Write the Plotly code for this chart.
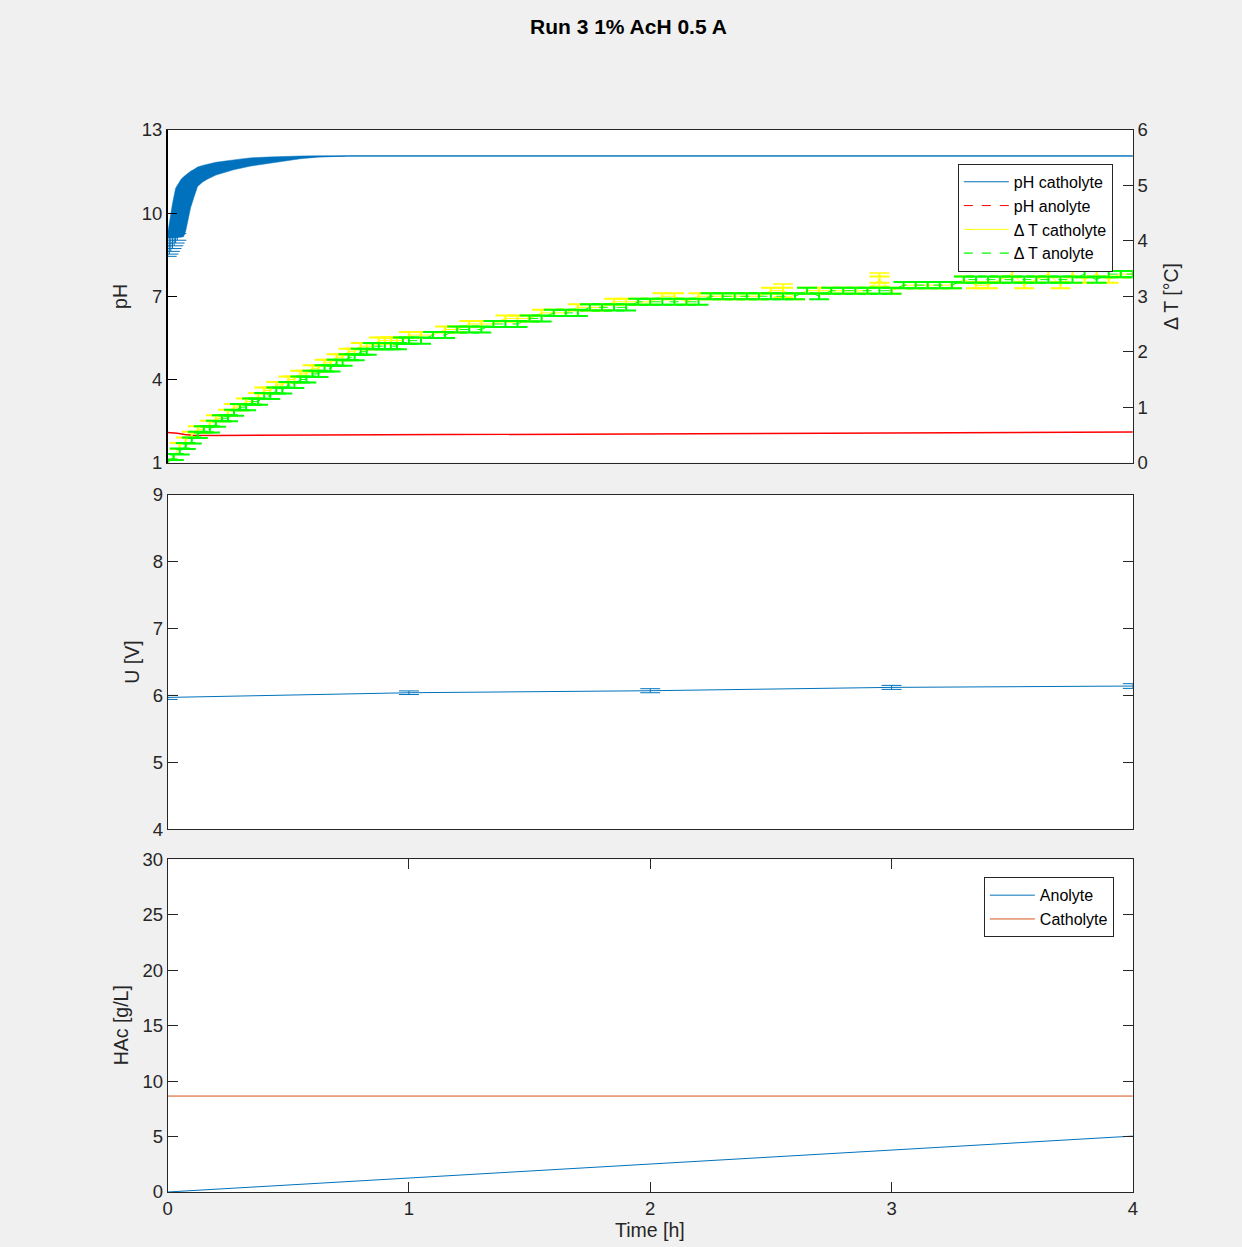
import plotly.graph_objects as go

# ---------------- data ----------------
# pH catholyte (centre and spread of the dense error-bar cloud)
pH_t = [0, 0.01, 0.02, 0.033, 0.045, 0.055, 0.066, 0.075, 0.085, 0.095, 0.11, 0.124,
        0.145, 0.166, 0.2, 0.24, 0.273, 0.34, 0.414, 0.48, 0.55, 0.62, 0.69, 0.75, 4.0]
pH_cath = [9.18, 9.48, 9.72, 10.0, 10.11, 10.17, 10.23, 10.37, 10.63, 10.85, 11.09, 11.31,
           11.42, 11.5, 11.6, 11.68, 11.74, 11.84, 11.9, 11.96, 12.01, 12.04, 12.05, 12.06, 12.06]
pH_cath_err = [0.08, 0.38, 0.62, 0.9, 0.99, 1.04, 1.08, 1.01, 0.83, 0.66, 0.49, 0.35,
               0.3, 0.27, 0.23, 0.2, 0.18, 0.15, 0.12, 0.09, 0.05, 0.025, 0.01, 0.0, 0.0]
# first pH catholyte readings (visible error bars below the cloud)
pH_early_t = [0, 0.007, 0.013, 0.02, 0.027, 0.033, 0.04]
pH_early = [8.78, 8.84, 8.9, 8.96, 9.02, 9.08, 9.14]
pH_early_err = [0.34, 0.32, 0.28, 0.24, 0.2, 0.16, 0.12]

# pH anolyte
pH_ano_t = [0, 0.02, 0.04, 0.07, 0.1, 0.2, 0.5, 1, 1.5, 2, 2.5, 3, 3.5, 4]
pH_ano = [2.09, 2.08, 2.06, 2.01, 1.99, 1.98, 1.99, 2.01, 2.02, 2.04, 2.05, 2.07, 2.08, 2.1]

# Delta T (right axis)
dT_t = [0.000, 0.025, 0.050, 0.075, 0.100, 0.125, 0.150, 0.175, 0.200, 0.225,
        0.250, 0.275, 0.300, 0.325, 0.350, 0.375, 0.400, 0.425, 0.450, 0.475,
        0.500, 0.525, 0.550, 0.575, 0.600, 0.625, 0.650, 0.675, 0.700, 0.725,
        0.750, 0.775, 0.800, 0.825, 0.850, 0.875, 0.900, 0.925, 0.950, 0.975, 1.000,
        1.05, 1.10, 1.15, 1.20, 1.25, 1.30, 1.35, 1.40, 1.45, 1.50,
        1.55, 1.60, 1.65, 1.70, 1.75, 1.80, 1.85, 1.90, 1.95, 2.00,
        2.05, 2.10, 2.15, 2.20, 2.25, 2.30, 2.35, 2.40, 2.45, 2.50,
        2.55, 2.60, 2.65, 2.70, 2.75, 2.80, 2.85, 2.90, 2.95, 3.00,
        3.05, 3.10, 3.15, 3.20, 3.25, 3.30, 3.35, 3.40, 3.45, 3.50,
        3.55, 3.60, 3.65, 3.70, 3.75, 3.80, 3.85, 3.90, 3.95, 4.00]
dT_cath = [0.0, 0.1, 0.3, 0.4, 0.5, 0.6, 0.6, 0.7, 0.8, 0.8,
           0.9, 1.0, 1.0, 1.1, 1.1, 1.2, 1.3, 1.3, 1.4, 1.4,
           1.5, 1.5, 1.6, 1.6, 1.7, 1.7, 1.8, 1.8, 1.9, 1.9,
           2.0, 2.0, 2.1, 2.1, 2.1, 2.2, 2.2, 2.2, 2.2, 2.2, 2.3,
           2.3, 2.3, 2.4, 2.4, 2.5, 2.5, 2.5, 2.6, 2.6, 2.6,
           2.7, 2.7, 2.7, 2.8, 2.8, 2.8, 2.9, 2.9, 2.9, 2.9,
           3.0, 3.0, 2.9, 3.0, 3.0, 3.0, 3.0, 3.0, 3.0, 3.1,
           3.1, 3.0, 3.1, 3.1, 3.1, 3.1, 3.1, 3.1, 3.3, 3.1,
           3.2, 3.2, 3.2, 3.2, 3.2, 3.3, 3.2, 3.2, 3.3, 3.4,
           3.2, 3.3, 3.4, 3.2, 3.4, 3.3, 3.4, 3.3, 3.4, 3.4]
dT_ano = [0.0, 0.1, 0.2, 0.3, 0.4, 0.5, 0.6, 0.6, 0.7, 0.8,
          0.8, 0.9, 1.0, 1.0, 1.1, 1.1, 1.2, 1.2, 1.3, 1.3,
          1.4, 1.4, 1.5, 1.5, 1.6, 1.6, 1.7, 1.7, 1.8, 1.8,
          1.9, 1.9, 2.0, 2.0, 2.1, 2.1, 2.1, 2.1, 2.1, 2.2, 2.2,
          2.2, 2.3, 2.3, 2.4, 2.4, 2.4, 2.5, 2.5, 2.5, 2.6,
          2.6, 2.7, 2.7, 2.7, 2.8, 2.8, 2.8, 2.8, 2.9, 2.9,
          2.9, 2.9, 2.9, 2.9, 3.0, 3.0, 3.0, 3.0, 3.0, 3.0,
          3.0, 3.0, 3.1, 3.0, 3.1, 3.1, 3.1, 3.1, 3.1, 3.1,
          3.2, 3.2, 3.2, 3.2, 3.2, 3.3, 3.3, 3.3, 3.3, 3.3,
          3.3, 3.3, 3.3, 3.3, 3.3, 3.4, 3.3, 3.4, 3.4, 3.4]
dT_err = 0.055
dT_cath_spike_t = [2.55, 2.95]
dT_cath_spike = [3.1, 3.3]
dT_cath_spike_err = [0.12, 0.12]

# Voltage
U_t = [0, 1, 2, 3, 4]
U = [5.97, 6.04, 6.07, 6.12, 6.14]
U_err = [0.03, 0.027, 0.03, 0.03, 0.035]

# Acetic acid
hac_t = [0, 1, 2, 3, 4]
hac_ano = [0.0, 1.26, 2.52, 3.78, 5.04]
hac_cath = [8.65, 8.65, 8.65, 8.65, 8.65]

# ---------------- style ----------------
W, H = 1242, 1247
FONT = "Liberation Sans, Arial, Helvetica, sans-serif"
AX = "#262626"
BLUE = "#0072BD"
ORANGE = "#D95319"

# target screen pixel -> paper fraction (compensates the page offset/scale seen
# in the photographed page)
def px_x(p):
    return ((p - 4.2) / 0.9928) / W

def px_y(p):
    return 1 - ((p - 10.0) / 0.984) / H

XD = [px_x(167), px_x(1133)]
TOP = [px_y(462), px_y(129)]
MID = [px_y(829), px_y(494)]
BOT = [px_y(1192), px_y(859)]

fig = go.Figure()

# pH catholyte cloud
fig.add_trace(go.Scatter(x=pH_t, y=[c + e for c, e in zip(pH_cath, pH_cath_err)],
                         mode="lines", line=dict(color=BLUE, width=0.5),
                         showlegend=False, hoverinfo="skip", xaxis="x", yaxis="y"))
fig.add_trace(go.Scatter(x=pH_t, y=[c - e for c, e in zip(pH_cath, pH_cath_err)],
                         mode="lines", line=dict(color=BLUE, width=0.5), fill="tonexty",
                         fillcolor=BLUE, showlegend=False, hoverinfo="skip",
                         xaxis="x", yaxis="y"))
fig.add_trace(go.Scatter(x=pH_early_t, y=pH_early, mode="lines",
                         line=dict(color=BLUE, width=0.5),
                         error_y=dict(type="data", array=pH_early_err, color=BLUE,
                                      thickness=1, width=9),
                         showlegend=False, xaxis="x", yaxis="y"))
fig.add_trace(go.Scatter(x=pH_t, y=pH_cath, mode="lines", name="pH catholyte",
                         line=dict(color=BLUE, width=1), xaxis="x", yaxis="y",
                         legend="legend"))
# pH anolyte
fig.add_trace(go.Scatter(x=pH_ano_t, y=pH_ano, mode="lines", showlegend=False,
                         line=dict(color="#FF0000", width=1.5), xaxis="x", yaxis="y"))
fig.add_trace(go.Scatter(x=[None], y=[None], mode="lines", name="pH anolyte",
                         line=dict(color="#FF0000", width=1, dash="dash"),
                         xaxis="x", yaxis="y", legend="legend"))
# Delta T
fig.add_trace(go.Scatter(x=dT_t, y=dT_cath, mode="lines", name="Δ T catholyte",
                         line=dict(color="#FFFF00", width=1),
                         error_y=dict(type="constant", value=dT_err, color="#FFFF00",
                                      thickness=2, width=10),
                         xaxis="x", yaxis="y2", legend="legend"))
fig.add_trace(go.Scatter(x=dT_cath_spike_t, y=dT_cath_spike, mode="lines",
                         line=dict(color="rgba(0,0,0,0)", width=0),
                         error_y=dict(type="data", array=dT_cath_spike_err, color="#FFFF00",
                                      thickness=1.5, width=10),
                         showlegend=False, xaxis="x", yaxis="y2"))
fig.add_trace(go.Scatter(x=dT_t, y=dT_ano, mode="lines", showlegend=False,
                         line=dict(color="#00FF00", width=1, dash="dash"),
                         error_y=dict(type="constant", value=dT_err, color="#00FF00",
                                      thickness=2, width=10),
                         xaxis="x", yaxis="y2"))
fig.add_trace(go.Scatter(x=[None], y=[None], mode="lines", name="Δ T anolyte",
                         line=dict(color="#00FF00", width=1.2, dash="dash"),
                         xaxis="x", yaxis="y2", legend="legend"))

# Voltage
fig.add_trace(go.Scatter(x=U_t, y=U, mode="lines", line=dict(color=BLUE, width=1),
                         error_y=dict(type="data", array=U_err, color=BLUE,
                                      thickness=1, width=10),
                         showlegend=False, xaxis="x2", yaxis="y3"))

# HAc
fig.add_trace(go.Scatter(x=hac_t, y=hac_ano, mode="lines", name="Anolyte",
                         line=dict(color=BLUE, width=1), xaxis="x3", yaxis="y4",
                         legend="legend2"))
fig.add_trace(go.Scatter(x=hac_t, y=hac_cath, mode="lines", name="Catholyte",
                         line=dict(color=ORANGE, width=1), xaxis="x3", yaxis="y4",
                         legend="legend2"))

tickfont = dict(family=FONT, size=18.5, color=AX)
common = dict(showgrid=False, zeroline=False, showline=True, linecolor=AX, linewidth=1,
              tickfont=tickfont, tickcolor=AX, ticklen=10, tickwidth=1)

legend_common = dict(xanchor="right", yanchor="top", bgcolor="white", bordercolor=AX,
                     borderwidth=1, traceorder="normal", tracegroupgap=0, itemwidth=45,
                     font=dict(family=FONT, size=16, color="#000000"))

fig.update_layout(
    autosize=True,
    margin=dict(l=0, r=0, t=0, b=0),
    paper_bgcolor="#f0f0f0",
    plot_bgcolor="white",
    font=dict(family=FONT, color=AX),
    xaxis=dict(domain=XD, range=[0, 4], anchor="y", ticks="", showticklabels=False,
               mirror=True, **common),
    yaxis=dict(domain=TOP, range=[1, 13], tickvals=[1, 4, 7, 10, 13], ticks="inside",
               anchor="x", **{**common, "linecolor": "#000000", "linewidth": 1.5,
                              "tickcolor": "#000000"}),
    yaxis2=dict(range=[0, 6], tickvals=[0, 1, 2, 3, 4, 5, 6], ticks="inside",
                overlaying="y", side="right", anchor="x", **common),
    xaxis2=dict(domain=XD, range=[0, 4], anchor="y3", ticks="", showticklabels=False,
                mirror=True, **common),
    yaxis3=dict(domain=MID, range=[4, 9], tickvals=[4, 5, 6, 7, 8, 9], ticks="inside",
                mirror="ticks", anchor="x2", **common),
    xaxis3=dict(domain=XD, range=[0, 4], tickvals=[0, 1, 2, 3, 4], ticks="inside",
                mirror="ticks", anchor="y4", **common),
    yaxis4=dict(domain=BOT, range=[0, 30], tickvals=[0, 5, 10, 15, 20, 25, 30],
                ticks="inside", mirror="ticks", anchor="x3", **common),
    legend=dict(x=px_x(1113), y=px_y(163), **legend_common),
    legend2=dict(x=px_x(1114), y=px_y(877), **legend_common),
    showlegend=True,
)

ann_font = dict(family=FONT, size=19.5, color=AX)
annotations = [
    dict(text="Run 3 1% AcH 0.5 A", x=px_x(628), y=px_y(26),
         font=dict(family=FONT, size=21, color="#000000", weight="bold")),
    dict(text="pH", x=px_x(120), y=px_y(295.5), textangle=-90, font=ann_font),
    dict(text="Δ T [°C]", x=px_x(1171), y=px_y(295.5), textangle=-90, font=ann_font),
    dict(text="U [V]", x=px_x(131), y=px_y(661.5), textangle=-90, font=ann_font),
    dict(text="HAc [g/L]", x=px_x(120), y=px_y(1025.5), textangle=-90, font=ann_font),
    dict(text="Time [h]", x=px_x(650), y=px_y(1230), font=ann_font),
]
for a in annotations:
    a.update(xref="paper", yref="paper", showarrow=False, xanchor="center", yanchor="middle")
fig.update_layout(annotations=annotations)

post = (
    "var st=document.createElement('style');"
    "st.innerHTML='html,body{margin:0;padding:0;overflow:hidden;}';"
    "document.head.appendChild(st);"
    "var gd=document.getElementById('{plot_id}');"
    "if(window.Plotly&&gd){Plotly.Plots.resize(gd);}"
)

fig.write_html("out.html", default_width="100vw", default_height="100vh",
               config={"displayModeBar": False}, post_script=post)
